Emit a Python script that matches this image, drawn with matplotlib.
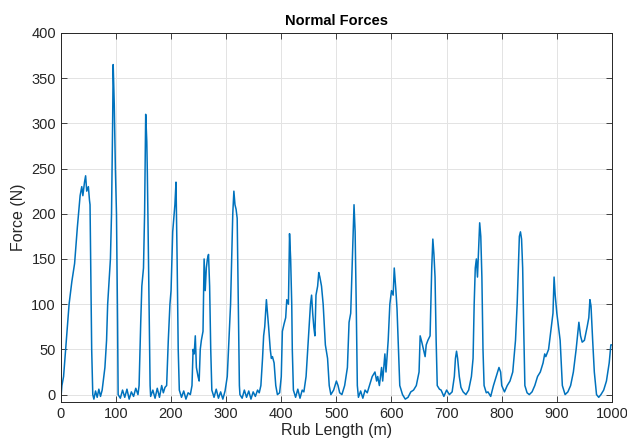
#!/usr/bin/env python3
"""Normal force against rub length, MATLAB-style line plot."""

import matplotlib

matplotlib.use("Agg")
import matplotlib.pyplot as plt

# trace readings as (rub length in m, force in N)
trace_readings = [
    (0, -5), (2, 10), (5, 20), (10, 60), (15, 100), (20, 125), (25, 145),
    (30, 185), (35, 220), (38, 230), (40, 220), (43, 235), (45, 242),
    (47, 225), (50, 230), (52, 215), (53, 210), (56, 50), (58, 0),
    (60, -5), (63, 4), (66, -3), (69, 6), (72, -2), (75, 5), (80, 30),
    (83, 60), (85, 100), (88, 130), (90, 150), (92, 200), (94, 300),
    (95, 365), (97, 320), (99, 250), (101, 200), (103, 80), (104, 0),
    (108, -4), (112, 5), (116, -3), (120, 6), (124, -5), (128, 3),
    (132, -2), (136, 7), (140, 0), (142, 10), (145, 80), (147, 120),
    (150, 140), (152, 200), (154, 310), (156, 280), (157, 245), (158, 200),
    (160, 100), (162, 10), (163, -2), (167, 5), (171, -4), (175, 7),
    (179, -3), (183, 10), (186, 2), (189, 8), (192, 10), (195, 60),
    (198, 100), (200, 115), (203, 180), (205, 195), (207, 210), (209, 235),
    (211, 150), (213, 50), (215, 5), (219, -3), (223, 4), (227, -5),
    (231, 2), (235, 0), (238, 10), (240, 50), (242, 45), (244, 65),
    (246, 30), (249, 20), (251, 15), (253, 50), (255, 60), (258, 70),
    (260, 150), (262, 115), (264, 140), (266, 150), (268, 155), (270, 120),
    (272, 50), (274, 5), (278, -3), (282, 6), (286, -4), (290, 3),
    (294, -5), (298, 4), (302, 20), (305, 60), (308, 100), (312, 200),
    (314, 225), (316, 210), (318, 205), (320, 195), (322, 100), (324, 10),
    (325, 0), (329, -4), (333, 5), (337, -3), (341, 4), (345, -5),
    (349, 3), (353, -2), (357, 5), (360, 2), (363, 10), (366, 40),
    (368, 65), (370, 75), (373, 105), (375, 90), (377, 75), (380, 50),
    (382, 40), (384, 42), (387, 35), (390, 10), (393, 0), (397, 2),
    (400, 20), (402, 70), (405, 78), (408, 85), (410, 105), (413, 100),
    (415, 178), (417, 150), (419, 100), (420, 50), (422, 5), (426, -3),
    (430, 6), (434, -4), (438, 5), (441, 3), (445, 20), (450, 70),
    (453, 100), (455, 110), (457, 90), (459, 75), (461, 65), (463, 110),
    (466, 120), (468, 135), (470, 130), (473, 120), (476, 100), (480, 55),
    (484, 40), (487, 10), (490, 0), (495, 5), (500, 15), (503, 10),
    (506, 2), (510, 0), (515, 10), (520, 30), (523, 80), (526, 90),
    (529, 150), (532, 210), (534, 180), (536, 100), (538, 10), (540, -3),
    (544, 4), (548, -4), (552, 5), (556, 2), (560, 10), (565, 20),
    (570, 25), (573, 15), (575, 20), (578, 10), (582, 30), (584, 15),
    (588, 45), (590, 25), (594, 60), (597, 100), (600, 115), (603, 110),
    (605, 140), (608, 115), (610, 95), (612, 60), (615, 10), (620, 0),
    (625, -5), (630, -3), (635, 3), (640, 5), (645, 10), (650, 25),
    (652, 65), (655, 58), (658, 50), (661, 42), (663, 55), (666, 60),
    (670, 65), (673, 140), (675, 172), (677, 155), (679, 130), (681, 60),
    (683, 10), (687, 6), (690, 5), (695, -2), (700, 5), (705, 0),
    (710, 3), (714, 20), (716, 40), (718, 48), (720, 40), (723, 20),
    (726, 8), (730, 3), (735, 0), (740, 5), (745, 20), (748, 40),
    (750, 100), (752, 140), (754, 150), (756, 130), (758, 160), (760, 190),
    (762, 175), (764, 130), (766, 50), (768, 10), (772, 2), (775, 3),
    (780, -2), (785, 10), (790, 20), (795, 30), (798, 25), (800, 10),
    (805, 3), (810, 10), (815, 15), (820, 25), (825, 60), (828, 100),
    (832, 175), (834, 180), (836, 172), (838, 140), (840, 70), (842, 10),
    (846, 2), (850, 0), (855, 3), (860, 10), (865, 20), (870, 25),
    (875, 35), (878, 45), (880, 42), (885, 50), (890, 75), (893, 90),
    (895, 130), (897, 110), (900, 90), (903, 75), (906, 60), (910, 10),
    (915, 0), (920, 3), (925, 10), (930, 25), (935, 50), (940, 80),
    (943, 65), (946, 58), (950, 60), (955, 75), (958, 85), (960, 105),
    (962, 98), (965, 60), (968, 25), (972, 0), (976, -3), (980, 0),
    (985, 5), (990, 15), (995, 35), (998, 55), (1000, 55),
]
rub_length = [point[0] for point in trace_readings]
normal_force = [point[1] for point in trace_readings]

x_ticks = [0, 100, 200, 300, 400, 500, 600, 700, 800, 900, 1000]
y_ticks = [0, 50, 100, 150, 200, 250, 300, 350, 400]

plt.rcParams.update(
    {
        "font.family": ["Liberation Sans", "DejaVu Sans"],
        "font.size": 10,
    }
)

figure = plt.figure(figsize=(6.27, 4.45), dpi=100)
axis = figure.add_axes([0.097, 0.097, 0.879, 0.829])

axis.plot(rub_length, normal_force, color="#0072BD", linewidth=1.1)

axis.set_xlim(0, 1000)
axis.set_ylim(-8, 400)
axis.set_xticks(x_ticks)
axis.set_yticks(y_ticks)
axis.tick_params(
    direction="in", top=True, right=True, length=4, width=0.6,
    colors="#262626", labelsize=10.5,
)
for spine in axis.spines.values():
    spine.set_color("#262626")
    spine.set_linewidth(0.7)
axis.grid(color="#e3e3e3", linewidth=0.7)
axis.set_axisbelow(True)

axis.set_title("Normal Forces", fontsize=10.5, fontweight="bold", pad=6)
axis.set_xlabel("Rub Length (m)", fontsize=11.5, color="#262626", labelpad=2)
axis.set_ylabel("Force (N)", fontsize=11.5, color="#262626", labelpad=4)

figure.savefig("out.png", dpi=100)
